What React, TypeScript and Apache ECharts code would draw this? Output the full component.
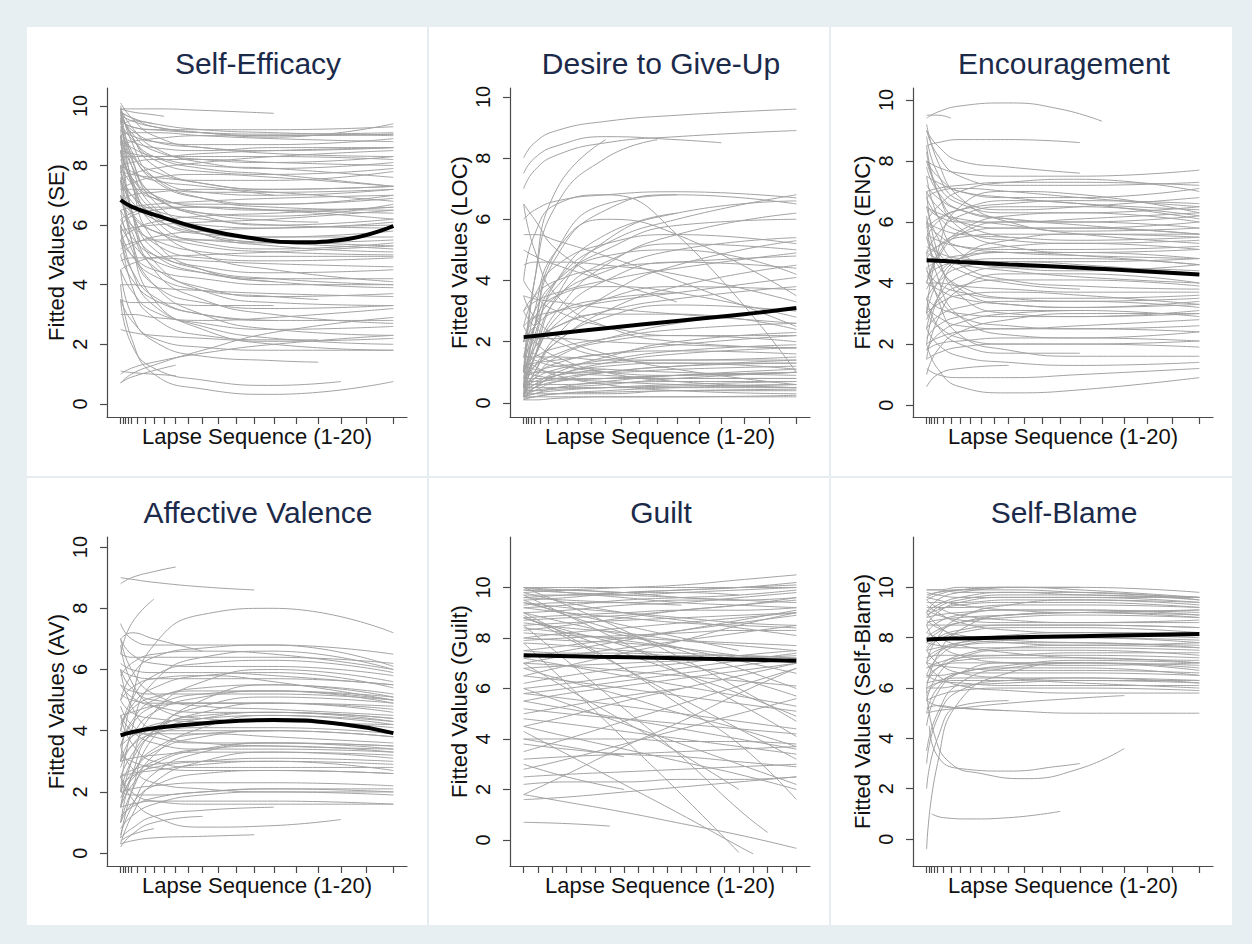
import React, { useEffect, useRef } from "react";
import * as echarts from "echarts";

// x positions (axis units 0..100) of the 21 ticks of the stretched lapse axes
const TICKS_CURVED = [0, 1.0, 1.8, 2.7, 4.0, 6.2, 8.9, 12.2, 15.9, 20.2, 24.8, 30.1, 35.8, 42.3, 49.0, 56.2, 64.3, 72.5, 80.8, 90.2, 100];
// x positions of the 20 evenly spaced ticks of the Guilt panel
const TICKS_UNIFORM = [0, 5.26, 10.53, 15.79, 21.05, 26.32, 31.58, 36.84, 42.11, 47.37, 52.63, 57.89, 63.16, 68.42, 73.68, 78.95, 84.21, 89.47, 94.74, 100];
// tick indices at which plain value lists are sampled
const SAMPLE_CURVED = [0, 4, 7, 11, 15, 20];
const SAMPLE_UNIFORM = [0, 3, 7, 11, 15, 19];
const Y_TICKS = [0, 2, 4, 6, 8, 10];

const SE_CURVES = [
  [9.9, 9.9, 9.9, 9.85, 9.75],
  [9.8, 9.6, 9.4, 9.2, 9.1, 9.0],
  [9.5, 9.3, 9.2, 9.1, 9.05, 9.1],
  [9.7, 9.5, 9.3, 9.1, 8.95, 9.4],
  [10.1, 9.6, 9.0, 8.6, 8.5, 8.6],
  [9.6, 9.2, 8.8, 8.6, 8.4, 8.3],
  [9.2, 9.0, 8.8, 8.7, 8.7, 8.9],
  [9.9, 9.3, 8.6, 8.1, 7.9, 8.1],
  [9.0, 8.8, 8.6, 8.5, 8.6, 8.6],
  [9.4, 8.9, 8.3, 7.9, 7.7, 7.3],
  [8.5, 8.4, 8.3, 8.3, 8.3, 8.2],
  [9.8, 9.0, 8.0, 7.4, 7.2, 7.3],
  [8.0, 8.1, 8.2, 8.2, 8.1, 8.0],
  [7.5, 7.7, 7.9, 8.1, 8.3, 8.5],
  [8.8, 8.3, 7.8, 7.4, 7.2, 7.3],
  [7.8, 7.7, 7.6, 7.5, 7.5, 7.8],
  [9.5, 8.5, 7.5, 6.9, 6.7, 6.9],
  [7.2, 7.2, 7.2, 7.1, 7.1, 7.2],
  [6.8, 7.0, 7.1, 7.2, 7.1, 6.8],
  [8.2, 7.6, 7.0, 6.6, 6.5, 6.6],
  [6.5, 6.6, 6.7, 6.8, 6.9, 7.0],
  [9.0, 8.0, 7.0, 6.3, 6.0, 6.2],
  [6.0, 6.3, 6.5, 6.6, 6.5, 6.4],
  [7.5, 7.0, 6.5, 6.2, 6.0, 5.9],
  [5.5, 5.8, 6.1, 6.3, 6.4, 6.6],
  [8.5, 7.5, 6.5, 5.8, 5.5, 5.3],
  [9.6, 8.0, 6.6, 5.7, 5.3, 5.1],
  [5.0, 5.3, 5.6, 5.8, 5.9, 6.0],
  [7.0, 6.4, 5.8, 5.3, 5.1, 5.0],
  [6.5, 6.0, 5.5, 5.1, 4.95, 4.95],
  [9.0, 7.4, 6.0, 5.0, 4.5, 4.1],
  [4.5, 4.7, 4.9, 5.0, 5.1, 5.3],
  [8.0, 6.5, 5.2, 4.5, 4.2, 4.0],
  [6.0, 5.4, 4.8, 4.4, 4.2, 4.2],
  [9.8, 7.5, 5.5, 4.5, 4.1, 3.9],
  [5.5, 5.0, 4.5, 4.2, 4.0, 4.0],
  [7.0, 5.8, 4.6, 3.9, 3.6, 3.7],
  [4.0, 4.0, 3.9, 3.8, 3.7, 3.6],
  [8.5, 6.5, 4.8, 3.8, 3.4, 3.3],
  [6.5, 5.2, 4.0, 3.4, 3.2, 3.3],
  [3.5, 3.4, 3.4, 3.3, 3.3],
  [9.0, 6.5, 4.5, 3.5, 3.0, 2.7],
  [5.5, 4.5, 3.6, 3.0, 2.8, 2.8],
  [7.5, 5.5, 4.0, 3.0, 2.5, 2.3],
  [4.5, 3.8, 3.1, 2.7, 2.5, 2.6],
  [3.0, 3.0, 2.9, 2.8, 2.9, 3.2],
  [6.0, 4.5, 3.3, 2.6, 2.2, 2.0],
  [2.5, 2.4, 2.3, 2.2, 2.1, 2.2],
  [8.0, 5.5, 3.5, 2.5, 2.0, 1.8],
  [1.0, 1.2, 1.4, 1.7, 2.0, 2.3],
  [0.7, 1.0, 1.3, 1.8, 2.4, 2.9],
  [3.5, 2.8, 2.2, 1.9, 1.8, 1.8],
  [4.0, 2.2, 1.0, 0.5, 0.32, 0.75],
  [[0, 3.5], [4, 2.0], [7, 1.2], [11, 0.8], [15, 0.62], [18, 0.75]],
  [[0, 1.1], [4, 1.05], [9, 0.95]],
  [[0, 0.7], [4, 0.9], [9, 1.3]],
  [[0, 4.5], [4, 3.0], [7, 2.1], [11, 1.6], [15, 1.45], [17, 1.4]],
  [[0, 6.0], [4, 4.0], [7, 2.9], [11, 2.3], [15, 2.15], [17, 2.15]],
  [9.3, 9.5, 9.4],
  [[0, 9.9], [4, 9.8], [7, 9.7], [8, 9.65]],
  [8.0, 7.8, 7.5, 7.3, 7.0],
  [5.0, 4.2, 3.5, 3.0, 2.8],
  [7.0, 6.0, 5.0, 4.4, 4.1],
  [9.5, 9.3, 9.2, 9.2, 9.2, 9.3],
  [8.7, 8.8, 8.9, 9.0, 9.0, 9.05],
  [[0, 5.8], [4, 5.0], [7, 4.3], [11, 3.8], [15, 3.6], [17, 3.5]],
  [[0, 7.5], [4, 6.8], [7, 6.2], [11, 5.7], [14, 5.4]],
  [[0, 8.5], [4, 7.6], [7, 6.9], [11, 6.4], [15, 6.15], [17, 6.1]],
  [9.9, 9.0, 8.2, 7.8, 7.7, 7.9],
  [9.7, 9.1, 8.5, 8.2, 8.1, 8.3],
  [8.9, 8.6, 8.3, 8.0, 7.9, 7.6],
  [7.2, 7.4, 7.6, 7.7, 7.6, 7.3],
  [9.3, 8.4, 7.6, 7.1, 7.0, 7.2],
  [8.0, 7.4, 6.9, 6.7, 6.7, 7.0],
  [6.2, 6.4, 6.6, 6.6, 6.5, 6.2],
  [9.5, 8.2, 7.0, 6.4, 6.3, 6.7],
  [7.8, 7.0, 6.4, 6.0, 5.9, 6.1],
  [5.8, 5.9, 6.0, 6.1, 6.2, 6.5],
  [8.8, 7.4, 6.3, 5.7, 5.6, 5.8],
  [6.8, 6.3, 5.8, 5.5, 5.4, 5.5],
  [9.2, 7.6, 6.2, 5.4, 5.2, 5.4],
  [5.2, 5.4, 5.5, 5.5, 5.4, 5.2],
  [7.6, 6.4, 5.4, 4.9, 4.8, 4.9],
  [4.8, 4.9, 4.9, 4.8, 4.7, 4.6],
  [9.9, 8.3, 6.8, 5.9, 5.6, 5.6],
  [6.2, 5.6, 5.0, 4.6, 4.4, 4.5],
  [9.0, 9.1, 9.1, 9.0, 8.9, 8.8],
  [9.8, 9.6, 9.3, 9.1, 9.0, 9.05],
  [8.3, 8.3, 8.3, 8.4, 8.5, 8.6],
  [10.0, 8.8, 7.6, 6.9, 6.6, 6.5],
];
const SE_FIT = [[0, 6.84], [4, 6.62], [7, 6.35], [11, 5.87], [14, 5.55], [16, 5.42], [18, 5.5], [20, 5.97]];

const LOC_CURVES = [
  [8.0, 8.5, 8.9, 9.2, 9.4, 9.6],
  [7.0, 7.6, 8.1, 8.5, 8.7, 8.9],
  [[0, 7.5], [4, 8.0], [7, 8.4], [11, 8.7], [15, 8.6], [17, 8.5]],
  [[0, 1.0], [4, 4.0], [7, 6.5], [11, 8.0], [14, 8.6]],
  [6.0, 6.3, 6.6, 6.8, 6.9, 6.7],
  [0.5, 2.5, 4.8, 6.3, 6.8, 6.5],
  [1.0, 2.5, 4.0, 5.2, 6.0, 6.8],
  [0.3, 1.5, 3.0, 4.5, 5.5, 6.2],
  [4.0, 5.5, 6.5, 6.8, 5.5, 1.0],
  [2.0, 3.0, 4.0, 5.0, 5.8, 6.0],
  [0.2, 1.0, 2.2, 3.5, 4.5, 5.3],
  [3.0, 3.5, 4.0, 4.4, 4.6, 4.8],
  [0.5, 1.2, 2.0, 3.0, 3.8, 4.5],
  [2.5, 2.8, 3.0, 3.3, 3.6, 4.1],
  [1.5, 2.0, 2.5, 3.0, 3.4, 3.8],
  [4.5, 4.6, 4.6, 4.5, 4.2, 3.3],
  [0.8, 1.2, 1.6, 2.1, 2.6, 3.1],
  [5.5, 5.5, 5.3, 4.8, 4.0, 2.5],
  [3.5, 3.4, 3.3, 3.1, 2.9, 2.6],
  [1.2, 1.5, 1.8, 2.1, 2.4, 2.6],
  [0.3, 0.6, 1.0, 1.5, 2.0, 2.3],
  [2.0, 2.1, 2.1, 2.0, 1.9, 1.8],
  [0.5, 0.8, 1.1, 1.4, 1.7, 1.9],
  [1.5, 1.5, 1.5, 1.4, 1.4, 1.5],
  [0.2, 0.4, 0.7, 1.0, 1.2, 1.4],
  [1.0, 1.0, 1.0, 1.0, 1.1, 1.2],
  [0.3, 0.5, 0.7, 0.8, 0.9, 1.0],
  [0.8, 0.8, 0.8, 0.8, 0.8, 0.8],
  [0.2, 0.3, 0.4, 0.5, 0.6, 0.7],
  [0.5, 0.5, 0.5, 0.5, 0.5, 0.5],
  [0.3, 0.3, 0.3, 0.3, 0.4, 0.4],
  [0.2, 0.2, 0.2, 0.2, 0.2, 0.2],
  [1.5, 1.2, 0.9, 0.6, 0.4, 0.3],
  [0.1, 0.1, 0.15, 0.2, 0.2, 0.25],
  [2.5, 2.0, 1.5, 1.0, 0.7, 0.5],
  [3.5, 2.8, 2.2, 1.6, 1.1, 0.6],
  [6.5, 5.0, 3.5, 2.5, 2.0, 1.8],
  [0.5, 2.0, 4.0, 5.5, 6.2],
  [0.2, 1.5, 3.5, 5.3, 6.2, 6.6],
  [1.0, 3.0, 5.0, 6.0, 5.5, 3.5],
  [0.8, 2.2, 3.8, 4.8, 5.0, 4.2],
  [2.0, 2.8, 3.5, 3.8, 3.6, 2.8],
  [0.3, 1.0, 2.0, 2.8, 3.2, 3.0],
  [1.0, 1.8, 2.5, 2.9, 2.9, 2.4],
  [0.2, 0.8, 1.5, 2.0, 2.2, 2.0],
  [3.0, 2.5, 2.0, 1.5, 1.3, 1.3],
  [4.0, 3.5, 3.0, 2.5, 2.2, 2.2],
  [0.5, 0.9, 1.3, 1.6, 1.7, 1.6],
  [0.1, 0.5, 0.9, 1.2, 1.3, 1.1],
  [1.8, 1.6, 1.3, 1.0, 0.9, 1.0],
  [0.5, 4.0, 7.0, 8.6],
  [0.2, 2.5, 5.0, 6.5, 6.8],
  [5.0, 4.8, 4.5, 4.0, 3.3],
  [2.0, 2.5, 3.0, 3.4, 3.6],
  [0.5, 0.7, 0.9, 1.1],
  [6.5, 6.0, 5.0, 4.0],
  [1.5, 2.5, 3.5, 4.3, 5.0, 5.4],
  [0.4, 0.6, 0.8, 1.0, 1.2, 1.3],
  [1.2, 1.1, 1.0, 0.9, 0.8, 0.8],
  [0.6, 1.5, 2.8, 4.0, 4.6, 4.4],
  [0.15, 0.2, 0.3, 0.4, 0.5, 0.6],
  [0.6, 0.6, 0.6, 0.65, 0.7, 0.7],
  [1.0, 0.9, 0.8, 0.7, 0.6, 0.5],
  [0.4, 0.4, 0.45, 0.5, 0.55, 0.6],
  [0.3, 0.4, 0.5, 0.6, 0.8, 1.0],
  [0.8, 1.0, 1.2, 1.3, 1.4, 1.4],
  [0.2, 0.5, 0.9, 1.3, 1.6, 1.8],
  [1.2, 1.3, 1.4, 1.6, 1.9, 2.2],
  [0.5, 1.5, 2.6, 3.4, 3.8, 3.7],
  [2.5, 3.5, 4.5, 5.2, 5.5, 5.2],
  [0.1, 0.2, 0.3, 0.35, 0.4, 0.45],
  [0.7, 0.7, 0.75, 0.8, 0.9, 1.0],
  [1.6, 1.4, 1.2, 1.1, 1.0, 0.9],
  [3.0, 3.3, 3.6, 4.0, 4.4, 4.9],
  [0.4, 1.8, 3.4, 4.6, 5.2, 5.0],
  [0.2, 0.3, 0.5, 0.7, 0.9, 1.1],
];
const LOC_FIT = [[0, 2.15], [4, 2.19], [7, 2.27], [11, 2.44], [15, 2.68], [18, 2.9], [20, 3.1]];

const ENC_CURVES = [
  [[0, 9.4], [4, 9.6], [7, 9.8], [11, 9.9], [14, 9.7], [16, 9.3]],
  [[0, 9.5], [4, 9.5], [6, 9.4]],
  [8.5, 8.6, 8.7, 8.7, 8.6],
  [8.0, 7.8, 7.6, 7.5, 7.5, 7.7],
  [9.0, 8.2, 7.5, 7.2, 7.2, 7.3],
  [7.0, 7.1, 7.2, 7.3, 7.3, 7.2],
  [6.0, 6.5, 7.0, 7.3, 7.4, 7.0],
  [3.0, 5.0, 6.5, 7.0, 6.9, 6.3],
  [8.0, 7.2, 6.6, 6.3, 6.3, 6.5],
  [5.5, 6.0, 6.4, 6.7, 6.6, 6.1],
  [4.0, 4.8, 5.6, 6.0, 6.0, 5.8],
  [7.0, 6.5, 6.0, 5.8, 5.8, 6.0],
  [6.5, 6.3, 6.1, 5.9, 5.6, 5.3],
  [5.0, 5.2, 5.5, 5.6, 5.6, 5.5],
  [2.0, 3.5, 4.8, 5.4, 5.6, 5.6],
  [8.5, 7.0, 5.8, 5.2, 5.0, 5.1],
  [6.0, 5.6, 5.2, 5.0, 4.9, 4.8],
  [4.5, 4.7, 4.9, 5.0, 4.9, 4.6],
  [3.5, 4.0, 4.5, 4.7, 4.6, 4.3],
  [7.5, 6.2, 5.0, 4.5, 4.4, 4.6],
  [5.0, 4.8, 4.6, 4.4, 4.2, 4.0],
  [1.5, 2.8, 3.8, 4.3, 4.3, 4.0],
  [6.5, 5.5, 4.6, 4.1, 3.9, 3.8],
  [4.0, 4.0, 3.9, 3.8, 3.7, 3.7],
  [3.0, 3.3, 3.6, 3.7, 3.6, 3.3],
  [5.5, 4.6, 3.9, 3.5, 3.4, 3.5],
  [2.5, 2.9, 3.2, 3.4, 3.4, 3.2],
  [7.0, 5.0, 3.6, 3.0, 2.9, 3.1],
  [3.5, 3.2, 3.0, 2.9, 2.9, 3.0],
  [1.0, 1.8, 2.4, 2.8, 3.0, 3.0],
  [4.5, 3.6, 2.9, 2.6, 2.5, 2.6],
  [2.0, 2.2, 2.4, 2.5, 2.5, 2.4],
  [6.0, 4.2, 2.9, 2.3, 2.2, 2.4],
  [3.0, 2.6, 2.2, 2.0, 2.0, 2.1],
  [1.5, 1.7, 1.9, 2.0, 2.0, 1.9],
  [5.0, 3.5, 2.3, 1.8, 1.6, 1.6],
  [2.5, 2.0, 1.6, 1.4, 1.3, 1.4],
  [2.0, 1.2, 0.6, 0.4, 0.5, 0.9],
  [1.2, 1.0, 0.9, 0.9, 1.0, 1.2],
  [0.6, 1.0, 1.2, 1.3],
  [6.5, 6.2, 6.0, 6.0, 6.1, 6.3],
  [8.0, 7.5, 7.0, 6.8, 6.8, 7.1],
  [4.0, 4.9, 5.7, 6.2, 6.3, 6.0],
  [5.0, 5.6, 6.2, 6.5, 6.5, 6.2],
  [7.5, 7.3, 7.0, 6.8, 6.6, 6.4],
  [3.0, 4.0, 4.8, 5.2, 5.3, 5.1],
  [9.0, 8.5, 8.0, 7.8, 7.6],
  [6.0, 5.8, 5.6, 5.5, 5.4, 5.5],
  [2.5, 3.5, 4.2, 4.5, 4.5, 4.4],
  [4.0, 3.8, 3.5, 3.3, 3.2, 3.3],
  [8.3, 7.0, 6.0, 5.5],
  [1.8, 2.3, 2.7, 3.0, 3.1],
  [5.5, 5.0, 4.4, 4.0, 3.8],
  [9.2, 8.0, 6.8, 6.0, 5.7, 5.8],
  [3.5, 2.6, 2.0, 1.7, 1.7],
  [7.2, 6.8, 6.4, 6.1, 5.9, 5.6],
  [5.8, 6.1, 6.4, 6.6, 6.7, 6.6],
  [7.8, 7.0, 6.4, 6.1, 6.0, 6.2],
  [4.8, 5.2, 5.6, 5.8, 5.8, 5.6],
  [6.8, 6.2, 5.7, 5.4, 5.3, 5.4],
  [3.8, 4.3, 4.8, 5.0, 5.0, 4.8],
  [5.2, 5.0, 4.8, 4.7, 4.7, 4.8],
  [2.8, 3.4, 3.9, 4.1, 4.1, 3.9],
  [4.4, 4.0, 3.7, 3.5, 3.5, 3.6],
  [6.2, 4.8, 3.8, 3.3, 3.2, 3.4],
  [2.2, 2.6, 2.9, 3.1, 3.1, 2.9],
  [3.2, 2.9, 2.6, 2.5, 2.6, 2.8],
  [8.8, 7.6, 6.7, 6.4, 6.5, 6.8],
  [6.8, 7.0, 7.1, 7.0, 6.8, 6.5],
  [4.2, 4.5, 4.7, 4.8, 4.8, 4.6],
  [1.8, 2.0, 2.1, 2.2, 2.2, 2.1],
  [5.6, 5.4, 5.2, 5.1, 5.1, 5.2],
];
const ENC_FIT = [[0, 4.75], [4, 4.73], [7, 4.69], [11, 4.61], [15, 4.5], [18, 4.38], [20, 4.28]];

const AV_CURVES = [
  [[0, 8.8], [4, 9.0], [7, 9.2], [9, 9.35]],
  [[0, 9.0], [4, 8.95], [7, 8.85], [11, 8.7], [14, 8.6]],
  [3.0, 5.0, 6.8, 7.8, 8.0, 7.2],
  [6.5, 7.5, 8.3],
  [5.0, 5.8, 6.4, 6.7, 6.8, 6.1],
  [2.0, 4.0, 5.6, 6.4, 6.6, 6.0],
  [7.5, 7.0, 6.8, 6.8, 6.8, 6.5],
  [1.5, 3.0, 4.6, 5.6, 6.0, 5.6],
  [4.0, 4.8, 5.4, 5.8, 5.9, 5.4],
  [6.0, 5.8, 5.7, 5.7, 5.7, 5.5],
  [0.5, 2.0, 3.8, 5.0, 5.5, 5.2],
  [3.0, 3.8, 4.6, 5.1, 5.3, 5.0],
  [5.5, 5.3, 5.2, 5.2, 5.2, 5.0],
  [2.5, 3.2, 4.0, 4.6, 4.9, 4.8],
  [4.5, 4.6, 4.8, 4.9, 4.9, 4.6],
  [7.0, 6.0, 5.2, 4.8, 4.7, 4.5],
  [1.0, 2.0, 3.2, 4.1, 4.5, 4.3],
  [3.5, 3.8, 4.2, 4.4, 4.5, 4.2],
  [5.0, 4.6, 4.4, 4.3, 4.3, 4.1],
  [2.0, 2.6, 3.3, 3.8, 4.0, 3.8],
  [4.0, 3.9, 3.9, 3.9, 3.8, 3.6],
  [6.0, 4.8, 4.0, 3.6, 3.5, 3.4],
  [1.5, 2.2, 2.9, 3.4, 3.6, 3.5],
  [3.0, 3.1, 3.2, 3.3, 3.3, 3.2],
  [0.3, 1.2, 2.3, 3.0, 3.3, 3.1],
  [2.5, 2.6, 2.7, 2.9, 3.0, 2.9],
  [4.5, 3.6, 3.0, 2.8, 2.8, 2.8],
  [1.0, 1.6, 2.2, 2.6, 2.7, 2.6],
  [2.0, 2.1, 2.2, 2.3, 2.3, 2.2],
  [3.5, 2.8, 2.3, 2.1, 2.0, 2.0],
  [0.8, 1.2, 1.6, 1.9, 2.0, 1.9],
  [1.5, 1.6, 1.7, 1.7, 1.7, 1.6],
  [2.5, 2.0, 1.7, 1.6, 1.6, 1.6],
  [0.5, 0.8, 1.2, 1.4, 1.5],
  [[0, 2.5], [4, 1.8], [7, 1.2], [11, 0.85], [15, 0.9], [18, 1.1]],
  [[0, 0.3], [4, 0.4], [7, 0.5], [11, 0.55], [14, 0.6]],
  [0.2, 0.6, 1.0, 1.2],
  [7.0, 6.5, 6.2, 6.1, 6.1, 5.8],
  [4.0, 5.0, 5.8, 6.2, 6.3, 5.9],
  [6.5, 6.4, 6.4, 6.4, 6.4, 6.2],
  [1.0, 2.5, 4.0, 4.8, 5.1, 4.9],
  [5.5, 5.1, 4.8, 4.6, 4.6, 4.4],
  [2.0, 3.0, 3.9, 4.4, 4.6, 4.3],
  [3.0, 3.5, 3.9, 4.1, 4.1, 3.9],
  [4.5, 4.0, 3.6, 3.4, 3.4, 3.3],
  [1.5, 2.5, 3.4, 3.9, 4.0],
  [6.0, 5.4, 5.0, 4.9, 4.9],
  [2.5, 2.7, 2.9, 3.0, 3.0, 2.7],
  [5.0, 5.4, 5.7, 5.8, 5.6, 5.0],
  [3.5, 4.3, 5.0, 5.4, 5.5, 5.1],
  [7.0, 7.2, 7.0, 6.6],
  [1.2, 1.5, 1.8, 2.0, 2.1, 2.0],
  [0.4, 0.6, 0.8],
  [4.2, 4.7, 5.1, 5.3, 5.3, 4.9],
  [2.8, 3.5, 4.1, 4.5, 4.6, 4.4],
  [5.2, 5.0, 4.9, 4.9, 4.9, 4.7],
  [3.8, 3.9, 4.0, 4.0, 4.0, 3.8],
  [1.8, 2.4, 3.0, 3.4, 3.5, 3.3],
  [4.8, 4.2, 3.8, 3.6, 3.6, 3.5],
  [2.2, 2.5, 2.8, 3.0, 3.1, 3.0],
  [6.2, 6.0, 5.9, 5.9, 5.8, 5.5],
  [3.2, 3.0, 2.8, 2.7, 2.7, 2.6],
  [0.6, 1.5, 2.6, 3.3, 3.6, 3.4],
  [5.8, 6.2, 6.5, 6.6, 6.5, 6.0],
  [2.0, 1.9, 1.9, 2.0, 2.1, 2.1],
  [3.5, 4.2, 4.8, 5.2, 5.3, 5.1],
  [6.8, 5.6, 4.8, 4.4, 4.3, 4.2],
];
const AV_FIT = [[0, 3.85], [4, 3.95], [7, 4.08], [11, 4.24], [15, 4.35], [18, 4.22], [20, 3.92]];

const GUILT_CURVES = [
  [10.0, 10.0, 10.0, 10.0, 10.0, 10.0],
  [9.8, 9.9, 10.0, 10.1, 10.3, 10.5],
  [9.7, 9.7, 9.7, 9.8, 9.9, 10.0],
  [9.5, 9.6, 9.8, 9.9, 10.0, 10.2],
  [10.0, 9.8, 9.6, 9.4, 9.3, 9.2],
  [9.3, 9.4, 9.4, 9.5, 9.5, 9.6],
  [9.0, 9.1, 9.3, 9.4, 9.6, 9.8],
  [9.8, 9.4, 9.0, 8.7, 8.4, 8.1],
  [8.8, 8.9, 9.0, 9.1, 9.1, 9.2],
  [9.2, 9.0, 8.8, 8.6, 8.5, 8.4],
  [8.5, 8.6, 8.7, 8.8, 8.9, 9.0],
  [8.0, 8.2, 8.4, 8.6, 8.8, 9.0],
  [9.5, 8.9, 8.2, 7.5, 6.8, 6.0],
  [8.2, 8.1, 8.0, 7.9, 7.8, 7.7],
  [7.5, 7.7, 8.0, 8.3, 8.6, 8.9],
  [8.8, 8.2, 7.4, 6.6, 5.8, 4.9],
  [7.8, 7.7, 7.5, 7.4, 7.3, 7.2],
  [7.0, 7.3, 7.6, 7.9, 8.2, 8.5],
  [6.5, 6.9, 7.4, 7.9, 8.5, 9.0],
  [9.0, 8.1, 6.8, 5.3, 3.8, 1.6],
  [[0, 8.5], [3, 7.1], [7, 5.2], [11, 3.3], [15, 1.2], [17, 0.3]],
  [7.8, 6.2, 4.0, 1.8, -0.5],
  [[0, 4.3], [3, 3.4], [7, 2.2], [11, 1.0], [15, -0.25], [16, -0.55]],
  [1.8, 1.5, 1.1, 0.65, 0.2, -0.33],
  [6.8, 6.9, 7.0, 7.1, 7.2, 7.3],
  [6.0, 6.2, 6.5, 6.8, 7.1, 7.4],
  [7.2, 6.9, 6.5, 6.1, 5.7, 5.3],
  [5.5, 5.8, 6.1, 6.4, 6.7, 7.0],
  [6.5, 6.3, 6.0, 5.7, 5.4, 5.1],
  [4.5, 4.9, 5.5, 6.0, 6.5, 7.0],
  [5.8, 5.6, 5.3, 5.0, 4.7, 4.4],
  [3.5, 4.0, 4.7, 5.4, 6.1, 6.8],
  [1.8, 2.6, 3.7, 4.7, 5.8, 6.8],
  [5.2, 5.0, 4.8, 4.6, 4.4, 4.2],
  [4.0, 4.0, 4.0, 3.9, 3.9, 3.8],
  [6.0, 5.4, 4.6, 3.8, 3.0, 2.2],
  [3.2, 3.3, 3.4, 3.5, 3.6, 3.7],
  [2.5, 2.6, 2.7, 2.8, 2.9, 3.0],
  [4.5, 4.1, 3.6, 3.1, 2.6, 2.0],
  [2.2, 2.3, 2.3, 2.4, 2.4, 2.5],
  [1.6, 1.7, 1.9, 2.1, 2.3, 2.5],
  [[0, 0.7], [3, 0.65], [6, 0.55]],
  [3.0, 2.5, 2.0],
  [9.6, 9.5, 9.4, 9.3],
  [9.9, 9.9, 9.8, 9.8, 9.7],
  [8.0, 7.9, 7.8, 7.6],
  [5.0, 5.3, 5.7, 6.0],
  [4.0, 3.7, 3.3],
  [7.0, 6.0, 4.7, 3.4, 2.0],
  [9.2, 9.3, 9.5, 9.6, 9.7, 9.9],
  [8.6, 8.4, 8.2, 7.9, 7.7, 7.5],
  [7.5, 7.4, 7.4, 7.3, 7.3, 7.2],
  [6.2, 6.5, 6.8, 7.0, 7.3, 7.5],
  [5.5, 5.2, 4.8, 4.4, 4.0, 3.6],
  [3.8, 3.6, 3.4, 3.3, 3.1, 2.9],
  [6.8, 6.3, 5.7, 5.0, 4.4, 3.7],
  [2.8, 3.2, 3.8, 4.4, 5.0, 5.6],
  [8.8, 8.3, 7.7, 7.0, 6.4, 5.7],
  [10.0, 9.9, 9.8, 9.6, 9.5],
  [9.4, 9.0, 8.5, 8.0, 7.5],
  [8.3, 8.5, 8.8, 9.1, 9.3, 9.6],
  [9.9, 9.8, 9.7, 9.6, 9.5, 9.4],
  [9.6, 9.7, 9.8, 9.9, 10.0, 10.1],
  [9.4, 9.2, 9.0, 8.8, 8.6, 8.5],
  [8.7, 8.8, 8.9, 9.1, 9.3, 9.5],
  [9.0, 8.6, 8.1, 7.6, 7.1, 6.6],
  [7.9, 8.0, 8.1, 8.2, 8.3, 8.3],
  [8.4, 8.2, 7.9, 7.6, 7.3, 7.0],
  [7.2, 7.5, 7.9, 8.3, 8.7, 9.1],
  [9.7, 8.9, 7.8, 6.6, 5.4, 4.1],
  [7.0, 6.9, 6.7, 6.5, 6.3, 6.1],
  [5.8, 6.0, 6.3, 6.6, 6.9, 7.2],
  [8.9, 8.0, 6.8, 5.6, 4.4, 3.2],
  [4.8, 4.6, 4.3, 4.0, 3.7, 3.4],
  [10.0, 9.3, 8.3, 7.2, 6.0, 4.7],
];
const GUILT_FIT = [[0, 7.32], [5, 7.26], [10, 7.21], [15, 7.15], [19, 7.1]];

const SB_CURVES = [
  [9.7, 9.8, 9.9, 10.0, 10.0, 9.8],
  [9.5, 9.7, 9.9, 10.0, 9.9, 9.6],
  [9.0, 9.3, 9.6, 9.8, 9.8, 9.5],
  [9.8, 9.7, 9.6, 9.6, 9.6, 9.6],
  [8.5, 9.0, 9.4, 9.6, 9.6, 9.4],
  [7.0, 8.0, 8.8, 9.3, 9.5, 9.3],
  [9.2, 9.2, 9.2, 9.3, 9.3, 9.2],
  [8.8, 8.9, 9.0, 9.1, 9.1, 9.0],
  [6.0, 7.3, 8.3, 8.9, 9.0, 8.8],
  [9.5, 9.2, 8.9, 8.7, 8.6, 8.6],
  [8.5, 8.5, 8.5, 8.5, 8.5, 8.4],
  [7.5, 7.9, 8.2, 8.4, 8.4, 8.2],
  [8.0, 8.0, 8.0, 8.0, 8.0, 7.9],
  [9.0, 8.5, 8.0, 7.8, 7.7, 7.8],
  [6.5, 7.2, 7.7, 7.9, 8.0, 7.8],
  [7.8, 7.7, 7.6, 7.6, 7.6, 7.5],
  [5.5, 6.5, 7.2, 7.5, 7.5, 7.3],
  [7.2, 7.3, 7.3, 7.3, 7.3, 7.2],
  [8.5, 7.8, 7.3, 7.0, 6.9, 7.0],
  [6.8, 6.9, 7.0, 7.0, 7.0, 6.8],
  [4.5, 5.8, 6.6, 7.0, 7.0, 6.7],
  [6.5, 6.5, 6.6, 6.6, 6.6, 6.5],
  [7.5, 7.0, 6.6, 6.4, 6.3, 6.3],
  [6.0, 6.2, 6.3, 6.3, 6.2, 6.0],
  [5.5, 5.7, 5.9, 6.0, 6.0, 5.9],
  [7.0, 6.5, 6.1, 5.9, 5.8, 5.8],
  [[0, 5.0], [4, 5.1], [7, 5.2], [11, 5.4], [15, 5.6], [17, 5.7]],
  [5.5, 5.3, 5.2, 5.1, 5.0, 5.0],
  [-0.4, 3.0, 5.5, 6.6, 7.0, 6.9],
  [[0, 6.0], [3, 4.2], [6, 3.0], [9, 2.6], [12, 2.4], [15, 2.8], [17, 3.6]],
  [[1, 4.5], [4, 3.3], [7, 2.8], [11, 2.7], [14, 2.9], [15, 3.0]],
  [[2, 1.0], [5, 0.85], [8, 0.8], [11, 0.85], [14, 1.1]],
  [2.0, 4.0, 5.3, 5.5],
  [9.9, 9.9, 10.0, 10.0, 10.0],
  [8.0, 8.3, 8.6, 8.8, 8.9, 8.8],
  [6.2, 6.8, 7.3, 7.6, 7.7, 7.6],
  [7.5, 7.6, 7.8, 8.0, 8.1, 8.0],
  [9.3, 9.0, 8.6, 8.3, 8.2, 8.2],
  [8.2, 8.0, 7.7, 7.4, 7.2, 7.1],
  [6.0, 6.0, 6.1, 6.2, 6.3, 6.2],
  [5.8, 6.2, 6.6, 6.9, 7.1, 7.0],
  [9.6, 9.5, 9.3, 9.1, 9.0, 9.1],
  [8.8, 9.2, 9.5, 9.7, 9.7, 9.5],
  [7.0, 7.4, 7.8, 8.1, 8.2, 8.1],
  [6.5, 6.3, 6.2, 6.1, 6.1, 6.1],
  [3.5, 5.0, 6.2, 6.8, 7.0],
  [9.0, 9.5, 9.8, 10.0],
  [7.8, 8.2, 8.6, 8.9, 9.0, 8.9],
  [5.2, 5.3, 5.2, 5.1],
  [8.6, 8.7, 8.8, 8.9, 9.0, 9.1],
  [6.8, 7.0, 7.2, 7.3, 7.4, 7.4],
  [9.9, 9.9, 9.8, 9.8, 9.7, 9.6],
  [9.4, 9.4, 9.4, 9.5, 9.5, 9.4],
  [8.9, 9.1, 9.3, 9.4, 9.4, 9.2],
  [8.2, 8.6, 8.9, 9.1, 9.1, 8.9],
  [9.1, 8.9, 8.7, 8.6, 8.6, 8.7],
  [7.6, 8.0, 8.3, 8.5, 8.5, 8.4],
  [8.7, 8.4, 8.1, 7.9, 7.8, 7.7],
  [7.2, 7.5, 7.7, 7.8, 7.8, 7.6],
  [6.4, 6.8, 7.1, 7.2, 7.2, 7.0],
  [7.0, 6.9, 6.8, 6.7, 6.7, 6.6],
  [5.0, 6.0, 6.6, 6.8, 6.8, 6.5],
  [6.2, 6.3, 6.4, 6.4, 6.4, 6.3],
  [3.0, 4.8, 5.9, 6.3, 6.4, 6.2],
  [9.6, 9.8, 9.9, 9.9, 9.8, 9.6],
];
const SB_FIT = [[0, 7.92], [4, 7.95], [7, 7.97], [11, 8.01], [15, 8.06], [18, 8.11], [20, 8.15]];

const FONT = "'Liberation Sans', Arial, Helvetica, sans-serif";

const PANELS = [
  { title: "Self-Efficacy", yName: "Fitted Values (SE)", curves: SE_CURVES, fit: SE_FIT, uniform: false, yMin: -0.44, yMax: 10.6 },
  { title: "Desire to Give-Up", yName: "Fitted Values (LOC)", curves: LOC_CURVES, fit: LOC_FIT, uniform: false, yMin: -0.46, yMax: 10.29 },
  { title: "Encouragement", yName: "Fitted Values (ENC)", curves: ENC_CURVES, fit: ENC_FIT, uniform: false, yMin: -0.39, yMax: 10.39 },
  { title: "Affective Valence", yName: "Fitted Values (AV)", curves: AV_CURVES, fit: AV_FIT, uniform: false, yMin: -0.42, yMax: 10.33 },
  { title: "Guilt", yName: "Fitted Values (Guilt)", curves: GUILT_CURVES, fit: GUILT_FIT, uniform: true, yMin: -1.03, yMax: 12.0 },
  { title: "Self-Blame", yName: "Fitted Values (Self-Blame)", curves: SB_CURVES, fit: SB_FIT, uniform: false, yMin: -1.07, yMax: 12.0 },
];

const COL_LEFT = [107, 510, 913];
const ROW_TOP = [88, 537];
const PLOT_W = 300;
const PLOT_H = 329;

function toPoints(curve: any[], ticks: number[], sample: number[]) {
  if (Array.isArray(curve[0])) return curve.map((p: number[]) => [ticks[p[0]], p[1]]);
  return curve.map((v: number, k: number) => [ticks[sample[k]], v]);
}

export default function App() {
  const ref = useRef<HTMLDivElement>(null);
  useEffect(() => {
    if (!ref.current) return;
    const chart = echarts.init(ref.current, undefined, { renderer: "svg" });
    const grid: any[] = [];
    const xAxis: any[] = [];
    const yAxis: any[] = [];
    const series: any[] = [];
    const title: any[] = [];
    const axisColor = "#4a4a4a";
    PANELS.forEach((p, i) => {
      const col = i % 3;
      const row = Math.floor(i / 3);
      const left = COL_LEFT[col];
      const top = ROW_TOP[row];
      const ticks = p.uniform ? TICKS_UNIFORM : TICKS_CURVED;
      const sample = p.uniform ? SAMPLE_UNIFORM : SAMPLE_CURVED;
      grid.push({ left, top, width: PLOT_W, height: PLOT_H, containLabel: false });
      title.push({
        text: p.title,
        left: left + PLOT_W / 2 - 4,
        top: top - 45,
        textAlign: "center",
        textStyle: { fontSize: 30, fontWeight: "normal", color: "#1c2a4a", fontFamily: FONT },
      });
      xAxis.push({
        gridIndex: i,
        type: "value",
        min: -5,
        max: 105,
        axisLine: { onZero: false, lineStyle: { color: axisColor, width: 1.2 } },
        axisTick: { show: true, customValues: ticks, length: 7, lineStyle: { color: axisColor, width: 1.2 } },
        axisLabel: { show: false },
        splitLine: { show: false },
        name: "Lapse Sequence (1-20)",
        nameLocation: "middle",
        nameGap: 8,
        nameTextStyle: { fontSize: 22, color: "#111", fontFamily: FONT },
      });
      yAxis.push({
        gridIndex: i,
        type: "value",
        min: p.yMin,
        max: p.yMax,
        axisLine: { show: true, onZero: false, lineStyle: { color: axisColor, width: 1.2 } },
        axisTick: { show: true, customValues: Y_TICKS, length: 7, lineStyle: { color: axisColor, width: 1.2 } },
        axisLabel: { customValues: Y_TICKS, rotate: 90, fontSize: 20, margin: 17, color: "#111", fontFamily: FONT },
        splitLine: { show: false },
        name: p.yName,
        nameLocation: "middle",
        nameGap: 40,
        nameTextStyle: { fontSize: 22, color: "#111", fontFamily: FONT },
      });
      p.curves.forEach((c: any[]) => {
        series.push({
          type: "line",
          xAxisIndex: i,
          yAxisIndex: i,
          data: toPoints(c, ticks, sample),
          smooth: 0.5,
          symbol: "none",
          silent: true,
          lineStyle: { color: "#a2a2a2", width: 1 },
          z: 2,
        });
      });
      series.push({
        type: "line",
        xAxisIndex: i,
        yAxisIndex: i,
        data: toPoints(p.fit, ticks, sample),
        smooth: 0.5,
        symbol: "none",
        silent: true,
        lineStyle: { color: "#000", width: 4 },
        z: 5,
      });
    });
    const sep = "#e6edf0";
    chart.setOption({
      animation: false,
      backgroundColor: "#e8eff2",
      title,
      grid,
      xAxis,
      yAxis,
      series,
      graphic: [
        { type: "rect", z: -10, silent: true, shape: { x: 27, y: 27, width: 1205, height: 898 }, style: { fill: "#ffffff" } },
        { type: "line", z: -5, silent: true, shape: { x1: 428, y1: 27, x2: 428, y2: 925 }, style: { stroke: sep, lineWidth: 2 } },
        { type: "line", z: -5, silent: true, shape: { x1: 830, y1: 27, x2: 830, y2: 925 }, style: { stroke: sep, lineWidth: 2 } },
        { type: "line", z: -5, silent: true, shape: { x1: 27, y1: 477, x2: 1232, y2: 477 }, style: { stroke: sep, lineWidth: 2 } },
      ],
    });
    return () => chart.dispose();
  }, []);
  return (
    <div
      ref={ref}
      style={{ position: "fixed", left: 0, top: 0, width: 1252, height: 944, background: "#e8eff2" }}
    />
  );
}
